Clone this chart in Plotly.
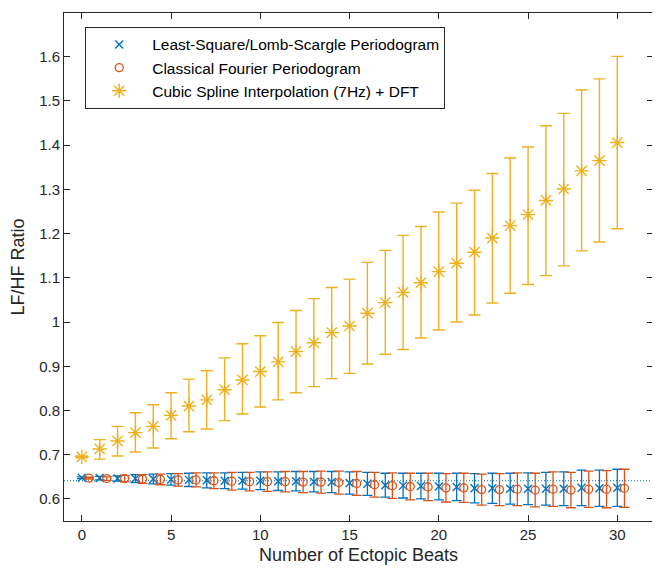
import plotly.graph_objects as go

# ---- data ----
beats = list(range(31))

ls_center = [0.648, 0.647, 0.646, 0.646, 0.645, 0.644, 0.643, 0.642, 0.641, 0.641,
             0.641, 0.640, 0.640, 0.639, 0.638, 0.636, 0.634, 0.631, 0.630, 0.629,
             0.628, 0.627, 0.624, 0.624, 0.623, 0.623, 0.623, 0.623, 0.625, 0.624, 0.625]
ls_err = [0.002, 0.004, 0.006, 0.009, 0.011, 0.013, 0.015, 0.017, 0.018, 0.019,
          0.020, 0.021, 0.022, 0.023, 0.024, 0.025, 0.026, 0.027, 0.028, 0.029,
          0.030, 0.031, 0.033, 0.034, 0.035, 0.036, 0.037, 0.038, 0.040, 0.041, 0.042]

cf_center = [0.647, 0.646, 0.646, 0.645, 0.644, 0.643, 0.643, 0.641, 0.640, 0.639,
             0.639, 0.639, 0.638, 0.638, 0.637, 0.635, 0.632, 0.630, 0.628, 0.627,
             0.625, 0.625, 0.621, 0.621, 0.622, 0.620, 0.622, 0.620, 0.622, 0.622, 0.624]
cf_err = [0.002, 0.004, 0.007, 0.010, 0.012, 0.014, 0.016, 0.018, 0.020, 0.021,
          0.022, 0.023, 0.024, 0.025, 0.026, 0.027, 0.028, 0.029, 0.030, 0.031,
          0.032, 0.033, 0.035, 0.036, 0.037, 0.038, 0.039, 0.040, 0.041, 0.042, 0.043]
cf_offset = 0.4

cs_center = [0.695, 0.713, 0.731, 0.750, 0.764, 0.789, 0.810, 0.824, 0.847, 0.869,
             0.888, 0.910, 0.933, 0.953, 0.976, 0.991, 1.020, 1.044, 1.067, 1.089,
             1.114, 1.133, 1.158, 1.190, 1.218, 1.243, 1.275, 1.301, 1.342, 1.365, 1.406]
cs_upper = [0.697, 0.734, 0.764, 0.795, 0.813, 0.840, 0.871, 0.890, 0.919, 0.951,
            0.969, 0.999, 1.026, 1.053, 1.078, 1.097, 1.135, 1.162, 1.196, 1.216,
            1.249, 1.269, 1.298, 1.336, 1.371, 1.396, 1.444, 1.472, 1.525, 1.550, 1.601]
cs_lower = [0.693, 0.690, 0.697, 0.706, 0.715, 0.736, 0.752, 0.758, 0.777, 0.792,
            0.808, 0.824, 0.840, 0.854, 0.872, 0.884, 0.905, 0.927, 0.938, 0.964,
            0.982, 1.000, 1.016, 1.043, 1.065, 1.085, 1.105, 1.127, 1.161, 1.181, 1.211]

baseline = 0.641

x_ticks = [0, 5, 10, 15, 20, 25, 30]
y_ticks = [0.6, 0.7, 0.8, 0.9, 1.0, 1.1, 1.2, 1.3, 1.4, 1.5, 1.6]
y_ticklabels = ["0.6", "0.7", "0.8", "0.9", "1", "1.1", "1.2", "1.3", "1.4", "1.5", "1.6"]

BLUE = "#0072BD"
RED = "#D95319"
YELLOW = "#EDB120"
AX = "#262626"
FONT = "Liberation Sans, Arial, sans-serif"

fig = go.Figure()

# dotted reference line
fig.add_trace(go.Scatter(x=[-1, 32], y=[baseline, baseline], mode="lines",
                         line=dict(color=BLUE, width=1, dash="1px,2px"),
                         showlegend=False, hoverinfo="skip"))

fig.add_trace(go.Scatter(
    x=beats, y=ls_center, mode="markers", name="Least-Square/Lomb-Scargle Periodogram",
    marker=dict(symbol="x-thin-open", size=8, color=BLUE, line=dict(color=BLUE, width=1.4)),
    error_y=dict(type="data", array=ls_err, color=BLUE, thickness=1.3, width=5),
))

fig.add_trace(go.Scatter(
    x=[b + cf_offset for b in beats], y=cf_center, mode="markers",
    name="Classical Fourier Periodogram",
    marker=dict(symbol="circle-open", size=8, color=RED, line=dict(color=RED, width=1.3)),
    error_y=dict(type="data", array=cf_err, color=RED, thickness=1.3, width=5),
))

fig.add_trace(go.Scatter(
    x=beats, y=cs_center, mode="markers", name="Cubic Spline Interpolation (7Hz) + DFT",
    marker=dict(symbol="asterisk-open", size=12, color=YELLOW, line=dict(color=YELLOW, width=1.4)),
    error_y=dict(type="data", symmetric=False,
                 array=[u - c for u, c in zip(cs_upper, cs_center)],
                 arrayminus=[c - l for c, l in zip(cs_center, cs_lower)],
                 color=YELLOW, thickness=1.4, width=6),
))

# page body adds an 8px offset, so the figure is sized/margined to compensate
fig.update_layout(
    width=652, height=562,
    margin=dict(l=56, r=7, t=5, b=49),
    paper_bgcolor="white", plot_bgcolor="white",
    font=dict(family=FONT, size=14, color=AX),
    showlegend=True,
    legend=dict(x=0.036, y=0.892, xanchor="left", yanchor="middle",
                bgcolor="white", bordercolor=AX, borderwidth=1,
                font=dict(family=FONT, size=15.5, color="black"),
                itemwidth=56, tracegroupgap=0),
)

fig.update_xaxes(range=[-1, 32], tickvals=x_ticks, ticks="inside", ticklen=6,
                 showline=True, linecolor=AX, linewidth=1, mirror="ticks",
                 showgrid=False, zeroline=False, tickcolor=AX, automargin=False,
                 tickfont=dict(size=15),
                 title=dict(text="Number of Ectopic Beats", font=dict(size=18), standoff=6))
fig.update_yaxes(range=[0.55, 1.699], tickvals=y_ticks, ticktext=y_ticklabels,
                 ticks="inside", ticklen=6,
                 showline=True, linecolor=AX, linewidth=1, mirror="ticks",
                 showgrid=False, zeroline=False, tickcolor=AX, automargin=False,
                 tickfont=dict(size=15),
                 title=dict(text="LF/HF Ratio", font=dict(size=18), standoff=10))

fig.write_html("out.html")
